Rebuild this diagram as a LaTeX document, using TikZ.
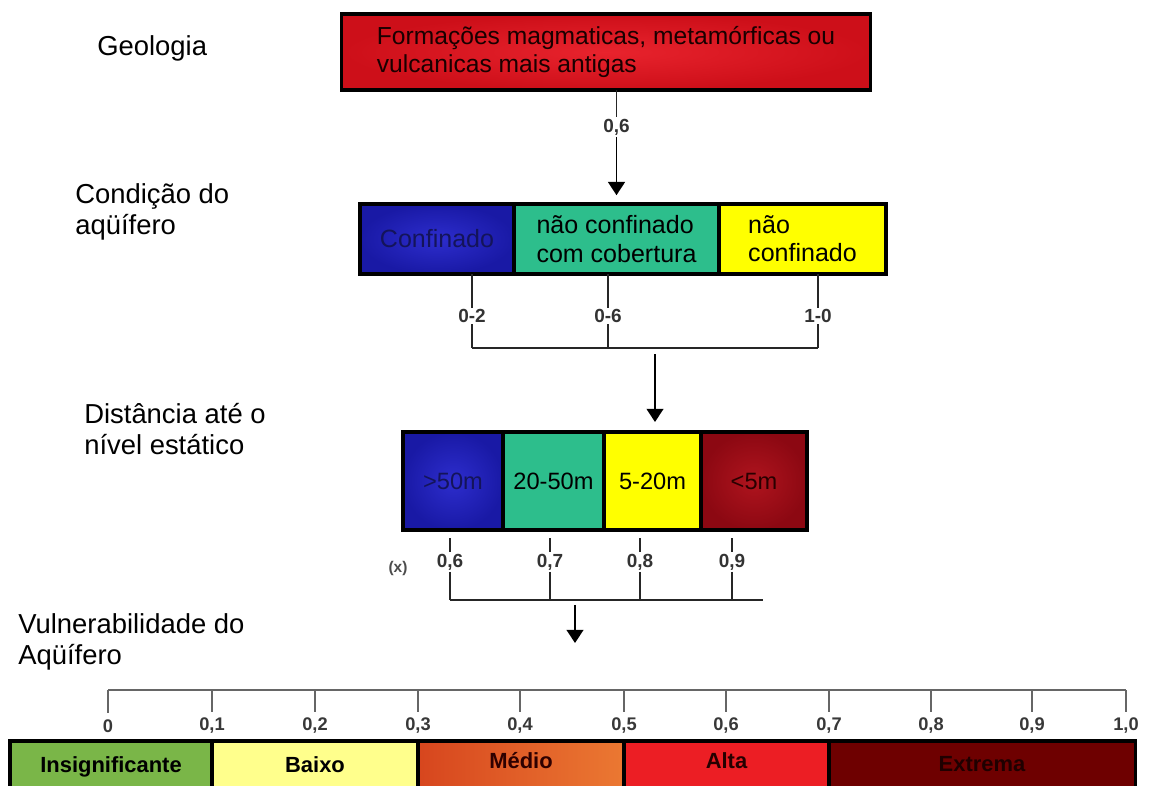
\documentclass[tikz,border=0pt]{standalone}
\usepackage{fontspec}
\setmainfont{Liberation Sans}
\usetikzlibrary{arrows.meta}
\definecolor{geored}{RGB}{205,15,25}
\definecolor{geolight}{RGB}{232,35,45}
\definecolor{cblue}{RGB}{25,25,165}
\definecolor{cbluelight}{RGB}{45,45,205}
\definecolor{cteal}{RGB}{45,190,140}
\definecolor{cyellow}{RGB}{255,255,0}
\definecolor{dred}{RGB}{140,8,18}
\definecolor{dredlight}{RGB}{175,20,30}
\definecolor{navy}{RGB}{20,20,90}
\definecolor{vgreen}{RGB}{122,182,72}
\definecolor{vyellow}{RGB}{255,255,140}
\definecolor{vorange}{RGB}{215,70,30}
\definecolor{vorangelight}{RGB}{235,120,50}
\definecolor{vred}{RGB}{236,30,36}
\definecolor{vdark}{RGB}{110,0,0}
\tikzset{
  cell/.style={draw=black, line width=2.2pt, inner sep=0pt, outer sep=0pt},
  barcell/.style={cell, minimum height=1.3cm, text height=1.1em, text depth=0.25em,
    font=\bfseries\fontsize{15.6}{18}\selectfont},
  title/.style={anchor=west, align=left, inner sep=0pt, font=\fontsize{19.5}{22}\selectfont},
  val/.style={inner sep=1pt, text=black!80, font=\bfseries\fontsize{13.5}{15}\selectfont},
  sval/.style={inner sep=1pt, text=black!78, font=\bfseries\fontsize{13}{15}\selectfont},
  tick/.style={draw=black!85, line width=1.4pt},
  stick/.style={draw=black!60, line width=1.4pt},
  flow/.style={draw=black, line width=1.3pt, -{Triangle[width=0.42cm,length=0.33cm]}}
}
\begin{document}
\begin{tikzpicture}[x=0.025cm, y=-0.025cm]
\useasboundingbox (0,0) rectangle (1155,785);
\clip (0,0) rectangle (1155,785);
% titles on the left
\node[title] (tgeo) at (97,48) {Geologia};
\node[title] (tcond) at (75,212) {Condição do\\aqüífero};
\node[title] (tdist) at (84,429) {Distância até o\\nível estático};
\node[title] (tvul) at (18,642) {Vulnerabilidade do\\Aqüífero};
% geologia
\node[cell, inner color=geolight, outer color=geored, minimum width=13.2cm, minimum height=1.9cm,
  align=left, text=black!90!red, font=\fontsize{17.5}{20}\selectfont] (geo) at (606,52)
  {Formações magmaticas, metamórficas ou\\vulcanicas mais antigas};
\node[val] (v06) at (616.5,127) {0,6};
% condicao do aquifero
\node[cell, inner color=cbluelight, outer color=cblue, minimum width=3.85cm, minimum height=1.75cm,
  text=navy, font=\fontsize{17.8}{20}\selectfont] (conf) at (437,239) {Confinado};
\node[cell, fill=cteal, minimum width=5.125cm, minimum height=1.75cm, align=left,
  font=\fontsize{17.8}{20}\selectfont] (ncc) at (616.5,239) {não confinado\\com cobertura};
\node[cell, fill=cyellow, minimum width=4.175cm, minimum height=1.75cm, align=left,
  font=\fontsize{17.8}{20}\selectfont] (nc) at (802.5,239) {não\\confinado};
\draw[tick, line width=1.2pt] (geo.south -| v06.north) -- (v06.north);
\draw[flow, shorten >=0.22cm] (v06.south) -- (v06.south |- ncc.north);
\coordinate (cbar) at (655,348);
\foreach \n/\x/\t in {a/472/0-2, b/608/0-6, c/818/1-0} {
  \node[val] (c\n) at (\x,316) {\t};
  \draw[tick] (c\n.north |- conf.south) -- (c\n.north);
  \draw[tick] (c\n.south) -- (c\n.south |- cbar);
}
\draw[tick] (ca.south |- cbar) -- (cc.south |- cbar);
% distancia ate o nivel estatico
\node[cell, inner color=cbluelight, outer color=cblue, minimum width=2.5cm, minimum height=2.45cm,
  text=navy, font=\fontsize{16.8}{19}\selectfont] (d1) at (453,481) {>50m};
\node[cell, fill=cteal, minimum width=2.525cm, minimum height=2.45cm,
  font=\fontsize{16.8}{19}\selectfont] (d2) at (553.5,481) {20-50m};
\node[cell, fill=cyellow, minimum width=2.425cm, minimum height=2.45cm,
  font=\fontsize{16.8}{19}\selectfont] (d3) at (652.5,481) {5-20m};
\node[cell, inner color=dredlight, outer color=dred, minimum width=2.65cm, minimum height=2.45cm,
  text=black!60!red!40!black, font=\fontsize{16.8}{19}\selectfont] (d4) at (754,481) {<5m};
\draw[flow, shorten <=0.15cm, shorten >=0.25cm] (cbar) -- (cbar |- d3.north);
\node[val, font=\bfseries\fontsize{11}{13}\selectfont, text=black!70] (xmark) at (398,568) {(x)};
\coordinate (dbar) at (575,600);
\coordinate (dend) at (763,600);
\coordinate (vtip) at (575,643);
\foreach \n/\x/\t in {a/450/{0,6}, b/550/{0,7}, c/640/{0,8}, d/732/{0,9}} {
  \node[val] (e\n) at (\x,562) {\t};
  \draw[tick] ([yshift=-0.2cm]e\n.north |- d1.south) -- (e\n.north);
  \draw[tick] (e\n.south) -- (e\n.south |- dbar);
}
\draw[tick] (ea.south |- dbar) -- (dend);
\draw[flow, shorten <=0.12cm] (dbar) -- (vtip);
% escala de vulnerabilidade
\foreach \i/\x/\t in {0/108/0, 1/212/{0,1}, 2/315/{0,2}, 3/418/{0,3}, 4/520/{0,4}, 5/624/{0,5},
  6/726/{0,6}, 7/829/{0,7}, 8/931/{0,8}, 9/1032/{0,9}, 10/1126/{1,0}} {
  \coordinate (s\i) at (\x,690);
  \node[sval] (l\i) at (\x,726) {\t};
  \draw[stick, shorten >=0.12cm] (s\i) -- (l\i.north);
}
\draw[stick] (s0) -- (s10);
\node[barcell, fill=vgreen, minimum width=5.05cm] (ins) at (111,767) {Insignificante};
\node[barcell, fill=vyellow, minimum width=5.15cm] (bai) at (315,767) {Baixo};
\node[barcell, left color=vorange, right color=vorangelight, minimum width=5.15cm,
  text=black!70!red!60!black] (med) at (521,767) {\raisebox{3.5pt}{Médio}};
\node[barcell, fill=vred, minimum width=5.125cm,
  text=black!70!red!50!black] (alt) at (726.5,767) {\raisebox{3.5pt}{Alta}};
\node[barcell, fill=vdark, minimum width=7.65cm,
  text=black!80!red!60!black] (ext) at (982,767) {\raisebox{1pt}{Extrema}};
\end{tikzpicture}
\end{document}
